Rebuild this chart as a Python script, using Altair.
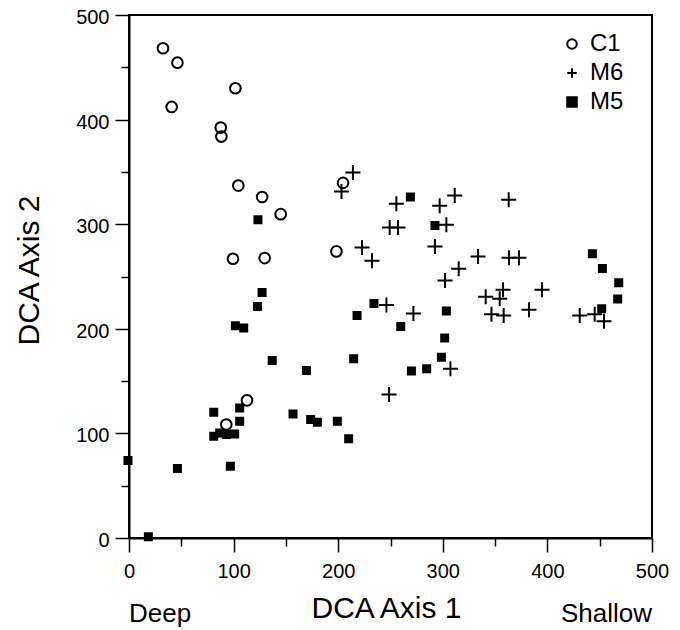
import altair as alt
import pandas as pd

series_names = ["C1", "M6", "M5"]

c1_x = [32.5, 46.3, 40.8, 101.7, 87.7, 88.3, 104.5, 127.3, 145.0, 99.4, 129.7, 198.3, 204.6, 93.0, 112.8]
c1_y = [468.2, 454.4, 412.1, 430.0, 392.4, 383.8, 336.9, 326.0, 309.6, 267.0, 267.6, 274.0, 339.5, 108.5, 131.6]

m6_x = [214.1, 203.1, 255.6, 311.4, 297.0, 363.0, 249.2, 257.2, 303.4, 222.8, 232.3, 292.5, 333.7, 315.2,
        302.1, 363.3, 372.8, 394.8, 357.6, 341.0, 354.4, 382.4, 346.5, 358.2, 246.1, 271.9, 430.9, 445.2,
        454.1, 307.3, 248.6]
m6_y = [349.4, 331.2, 319.5, 327.4, 317.6, 323.3, 296.9, 296.9, 299.4, 277.7, 265.0, 278.7, 269.1, 257.4,
        246.2, 267.9, 267.9, 237.3, 237.3, 230.7, 228.8, 218.2, 213.8, 212.8, 222.7, 214.7, 212.8, 213.8,
        207.1, 161.9, 137.1]

m5_x = [123.3, 127.2, 122.8, 101.7, 109.7, 136.9, 169.6, 81.0, 105.8, 105.8, 81.0, 86.7, 93.1, 101.0,
        96.9, 46.3, -1.0, 18.5, 156.8, 173.7, 180.1, 199.2, 210.0, 269.0, 292.5, 443.0, 452.6, 468.2,
        467.2, 451.9, 234.2, 218.0, 259.8, 303.4, 301.8, 214.8, 298.7, 284.6, 270.0]
m5_y = [304.2, 234.8, 221.4, 203.0, 200.8, 169.7, 160.2, 120.2, 124.4, 111.6, 97.2, 100.5, 98.9, 99.5,
        68.6, 66.4, 74.0, 1.1, 118.6, 113.2, 110.6, 111.6, 95.0, 325.9, 298.8, 271.7, 257.7, 244.0,
        228.5, 219.2, 224.3, 212.8, 202.3, 217.0, 191.2, 171.4, 172.7, 161.9, 159.7]

tick_values = [0, 50, 100, 150, 200, 250, 300, 350, 400, 450, 500]
end_labels = ["Deep", "Shallow"]
end_positions = [0, 500]

rows = []
for name, xs, ys in [("C1", c1_x, c1_y), ("M6", m6_x, m6_y), ("M5", m5_x, m5_y)]:
    for a, b in zip(xs, ys):
        rows.append({"series": name, "axis1": a, "axis2": b})
df = pd.DataFrame(rows)

FONT = "Liberation Sans"
plus_path = "M-1,0H1M0,-1V1"
tick_size = {"condition": {"test": "datum.value % 100 === 0", "value": 14}, "value": 8}
label_expr = "datum.value % 100 === 0 ? datum.label : ''"

x_axis = alt.Axis(
    values=tick_values, labelExpr=label_expr, tickSize=tick_size, labelPadding=9, labelFlush=False,
    grid=False, title="DCA Axis 1", titleX=257, titleY=79.5, titleAlign="center",
    titleBaseline="alphabetic", titleAnchor="middle",
)
y_axis = alt.Axis(
    values=tick_values, labelExpr=label_expr, tickSize=tick_size, labelPadding=6, labelFlush=False,
    labelOffset=2.5,
    grid=False, title="DCA Axis 2", titleX=-91, titleY=255, titleAlign="center",
    titleBaseline="alphabetic", titleAngle=270, titleAnchor="middle",
)

legend = alt.Legend(orient="none", legendX=431, legendY=17, title=None)

size_rule = (
    alt.when(alt.datum.series == "C1").then(alt.value(114))
    .when(alt.datum.series == "M6").then(alt.value(225))
    .otherwise(alt.value(49))
)

points = alt.Chart(df).mark_point(strokeWidth=2, opacity=1).encode(
    x=alt.X("axis1:Q", scale=alt.Scale(domain=[0, 500], nice=False, zero=False), axis=x_axis),
    y=alt.Y("axis2:Q", scale=alt.Scale(domain=[0, 500], nice=False, zero=False), axis=y_axis),
    shape=alt.Shape("series:N", scale=alt.Scale(domain=series_names, range=["circle", plus_path, "square"]),
                    legend=legend),
    fill=alt.Fill("series:N", scale=alt.Scale(domain=series_names, range=["transparent", "transparent", "black"]),
                  legend=legend),
    stroke=alt.Stroke("series:N", scale=alt.Scale(domain=series_names, range=["black", "black", "black"]),
                      legend=legend),
    size=size_rule,
)

ends = pd.DataFrame({"label": end_labels, "pos": end_positions})
deep = alt.Chart(ends.iloc[[0]]).mark_text(align="left", baseline="alphabetic", font=FONT, fontSize=26,
                                           color="black").encode(
    x=alt.X("pos:Q"), y=alt.value(607), text="label:N")
shallow = alt.Chart(ends.iloc[[1]]).mark_text(align="right", baseline="alphabetic", font=FONT, fontSize=26,
                                              color="black").encode(
    x=alt.X("pos:Q"), y=alt.value(607), text="label:N")

chart = alt.layer(points, deep, shallow).properties(
    width=523, height=523,
    padding={"left": 121, "top": 7, "right": 20, "bottom": 99},
    autosize=alt.AutoSizeParams(type="none"),
    background="white",
).configure_view(
    stroke="black", strokeWidth=2,
).configure_axis(
    domainColor="black", domainWidth=2, tickColor="black", tickWidth=1.5,
    labelFont=FONT, labelFontSize=20, labelColor="black",
    titleFont=FONT, titleFontSize=30, titleFontWeight="normal", titleColor="black",
).configure_legend(
    labelFont=FONT, labelFontSize=24, labelColor="black", symbolSize=90,
    symbolStrokeWidth=2, labelOffset=6, rowPadding=5, padding=0,
)

chart.save("out.html", embed_options={"renderer": "svg", "actions": False})
